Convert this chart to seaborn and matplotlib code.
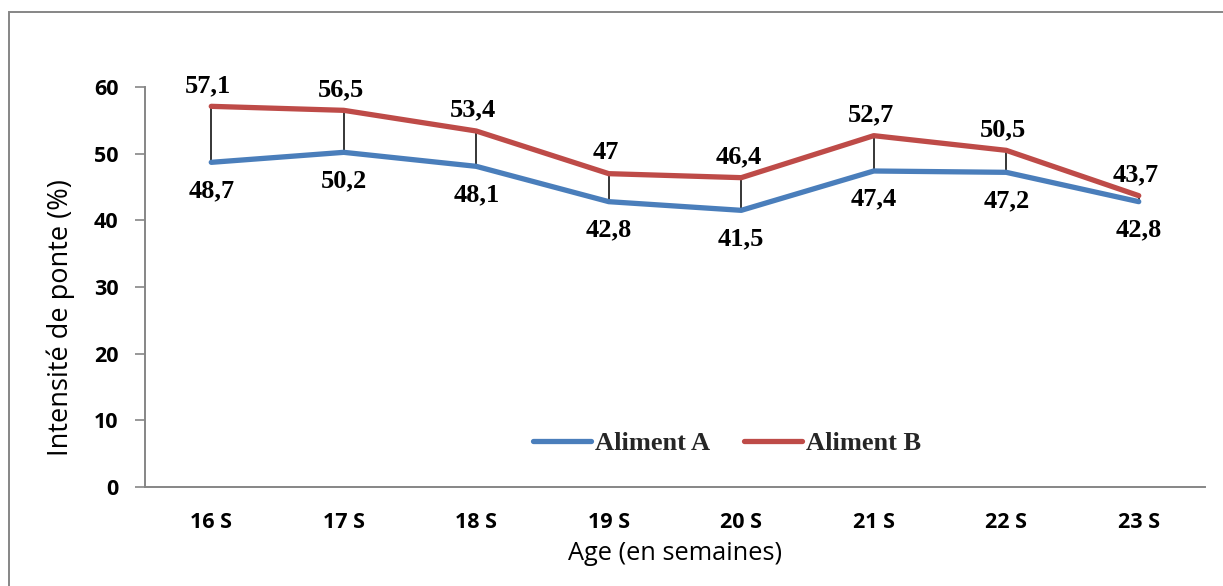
import matplotlib
matplotlib.use("Agg")
import matplotlib.pyplot as plt
from matplotlib.patches import Rectangle
from matplotlib.lines import Line2D
import seaborn as sns
import pandas as pd

# Laying intensity by age for two feeds
weeks = ["16 S", "17 S", "18 S", "19 S", "20 S", "21 S", "22 S", "23 S"]
aliment_a = [48.7, 50.2, 48.1, 42.8, 41.5, 47.4, 47.2, 42.8]
aliment_b = [57.1, 56.5, 53.4, 47.0, 46.4, 52.7, 50.5, 43.7]
series_names = ["Aliment A", "Aliment B"]
y_ticks = [0, 10, 20, 30, 40, 50, 60]

blue = "#4A7EBB"
red = "#BE4B48"
axis_grey = "#868686"
line_w = 3.8

sns.set_theme(style="white")
plt.rcParams["font.family"] = ["Open Sans", "DejaVu Sans"]

df = pd.DataFrame({
    "x": list(range(len(weeks))) * 2,
    "value": aliment_a + aliment_b,
    "serie": [series_names[0]] * len(weeks) + [series_names[1]] * len(weeks),
})

fig = plt.figure(figsize=(12.23, 5.86), dpi=100)
ax = fig.add_axes([145 / 1223, 1 - 487 / 586, (1205 - 145) / 1223, 400 / 586])

# high-low connectors between the two series
xs = list(range(len(weeks)))
ax.vlines(xs, aliment_a, aliment_b, color="black", lw=1.1, zorder=1)

sns.lineplot(data=df, x="x", y="value", hue="serie",
             palette={series_names[0]: blue, series_names[1]: red},
             lw=line_w, ax=ax, legend=False, zorder=2,
             solid_capstyle="round", solid_joinstyle="round")


def fmt(v):
    return f"{v:g}".replace(".", ",")


label_font = dict(family=["Liberation Serif"], weight="bold", size=19)
for i, (a, b) in enumerate(zip(aliment_a, aliment_b)):
    ax.annotate(fmt(b), (i, b), xytext=(-3, 21), textcoords="offset pixels",
                ha="center", va="center", color="black", **label_font)
    ax.annotate(fmt(a), (i, a), xytext=(0, -28), textcoords="offset pixels",
                ha="center", va="center", color="black", **label_font)

ax.set_xlim(-0.5, len(weeks) - 0.5)
ax.set_ylim(0, 60)
ax.set_xticks(xs)
ax.set_xticklabels(weeks)
ax.set_yticks(y_ticks)
ax.set_yticklabels([str(t) for t in y_ticks])

for lab in ax.get_xticklabels() + ax.get_yticklabels():
    lab.set_fontweight("bold")
    lab.set_fontsize(15.5)
    lab.set_color("black")

ax.tick_params(axis="y", which="major", length=7, width=1.2, color=axis_grey,
               direction="out", pad=12, left=True)
ax.tick_params(axis="x", which="major", length=0, pad=18)

for side in ["top", "right"]:
    ax.spines[side].set_visible(False)
for side in ["left", "bottom"]:
    ax.spines[side].set_color(axis_grey)
    ax.spines[side].set_linewidth(1.4)

ax.set_xlabel("Age (en semaines)", fontsize=18.3, color="black", labelpad=6)
ax.set_ylabel("Intensité de ponte (%)", fontsize=19.5, color="black")
ax.yaxis.set_label_coords((61 - 145) / 1060, (487 - 318) / 400)
ax.yaxis.label.set_va("center")

# legend
handles = [Line2D([0], [0], color=blue, lw=line_w, solid_capstyle="round"),
           Line2D([0], [0], color=red, lw=line_w, solid_capstyle="round")]
ax.legend(handles, series_names, loc="center", bbox_to_anchor=(727 / 1223, 1 - 443 / 586),
          bbox_transform=fig.transFigure, ncol=2, frameon=False,
          prop=dict(family="Liberation Serif", weight="bold", size=19),
          handlelength=2.2, handletextpad=0.15, columnspacing=1.3)

# chart-area border
fig.patches.append(Rectangle((9 / 1223, -0.1), 1.2, 1 - 12 / 586 + 0.1,
                             transform=fig.transFigure, fill=False,
                             edgecolor=axis_grey, lw=1.4, clip_on=False))

fig.savefig("out.png", dpi=100)
